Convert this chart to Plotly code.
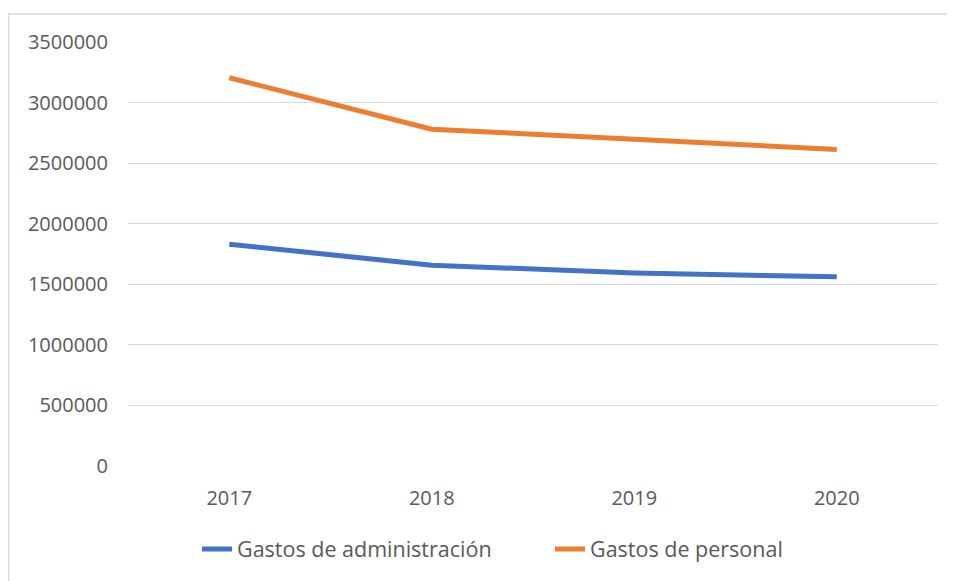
import plotly.graph_objects as go

years = ["2017", "2018", "2019", "2020"]
gastos_admin = [1830000, 1658000, 1593000, 1562000]
gastos_personal = [3205000, 2780000, 2698000, 2613000]
tick_vals = [0, 500000, 1000000, 1500000, 2000000, 2500000, 3000000, 3500000]
tick_text = ["0", "500000", "1000000", "1500000", "2000000", "2500000", "3000000", "3500000"]

# page body has an 8px margin: figure is placed at (8, 8)
OFF = 8
W, H = 955 - OFF, 581 - OFF
L, R, T, B = 128 - OFF, 17, 42 - OFF, 115
pw, ph = W - L - R, H - T - B

def px(x):
    return (x - OFF - L) / pw

def py(y):
    return (H - B - (y - OFF)) / ph

FONT = "Open Sans"
TXT = "#595959"

fig = go.Figure()
fig.add_trace(go.Scatter(x=years, y=gastos_admin, mode="lines", name="Gastos de administración",
                         line=dict(color="#4472C4", width=5)))
fig.add_trace(go.Scatter(x=years, y=gastos_personal, mode="lines", name="Gastos de personal",
                         line=dict(color="#ED7D31", width=5)))

fig.update_layout(
    width=W, height=H,
    margin=dict(l=L, r=R, t=T, b=B, pad=0),
    paper_bgcolor="white", plot_bgcolor="white",
    font=dict(family=FONT, size=20, color=TXT),
    showlegend=True,
    legend=dict(orientation="h", x=px(197), xanchor="left", y=py(549), yanchor="middle",
                font=dict(family=FONT, size=21.5, color=TXT),
                tracegroupgap=0, itemwidth=30, entrywidthmode="pixels", entrywidth=308),
    xaxis=dict(type="category", showgrid=False, zeroline=False, showline=False,
               ticks="", tickfont=dict(family=FONT, size=20, color=TXT),
               range=[-0.5, 3.5], ticklabelstandoff=18),
    yaxis=dict(range=[0, 3500000], tickvals=tick_vals, ticktext=tick_text,
               showgrid=True, gridcolor="#D9D9D9", gridwidth=1.3, zeroline=False,
               showline=False, ticks="", tickfont=dict(family=FONT, size=20, color=TXT),
               ticklabelstandoff=19),
    shapes=[
        dict(type="line", xref="paper", yref="paper", x0=px(8), x1=px(960), y0=py(14), y1=py(14),
             line=dict(color="#D9D9D9", width=1.5)),
        dict(type="line", xref="paper", yref="paper", x0=px(8.5), x1=px(8.5), y0=py(14), y1=py(590),
             line=dict(color="#D9D9D9", width=1.5)),
    ],
)

fig.write_html("out.html")
